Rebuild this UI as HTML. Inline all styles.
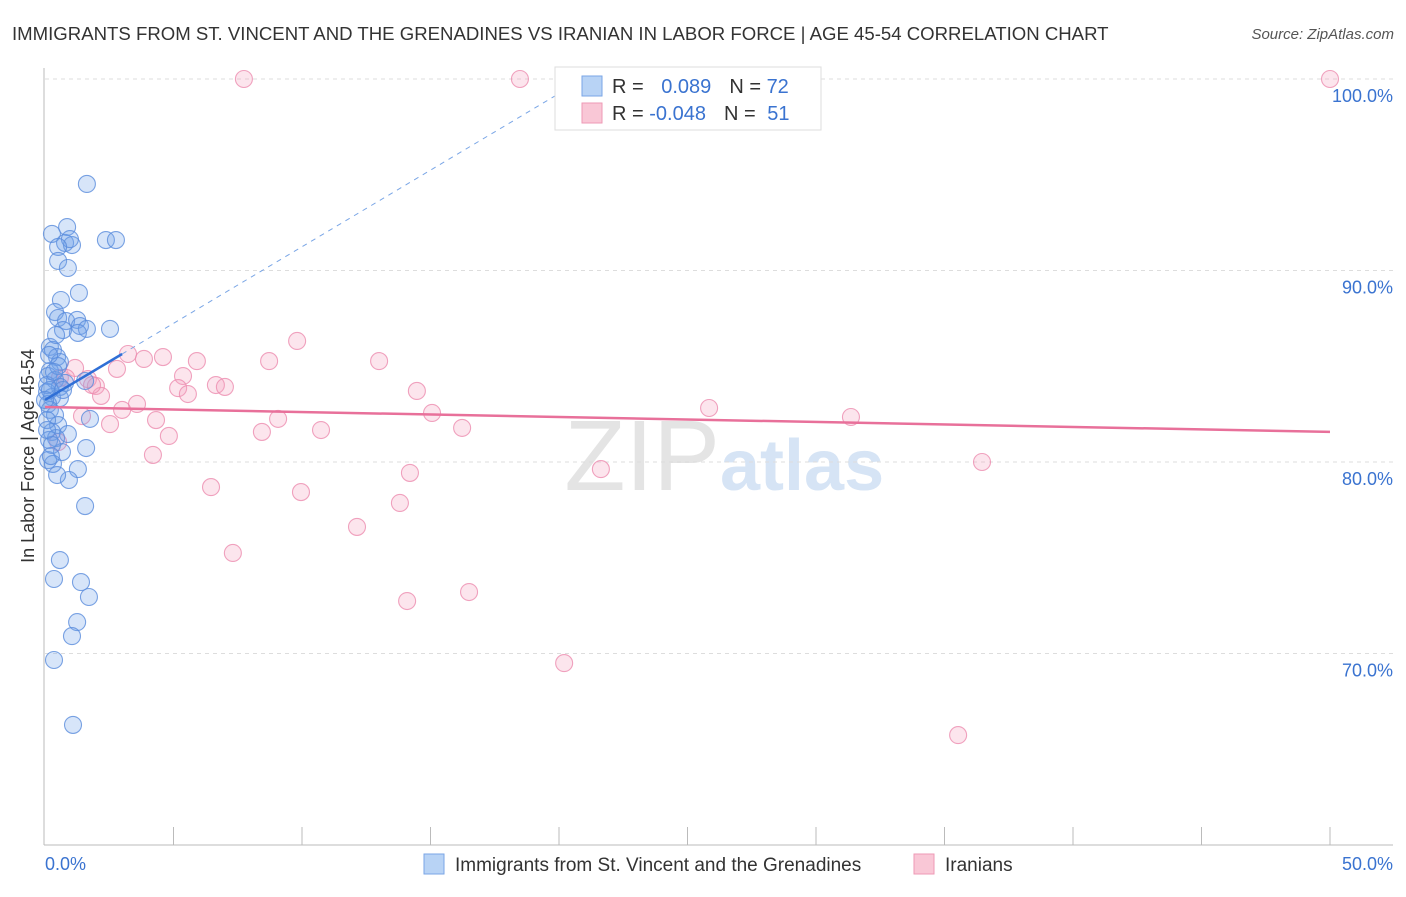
<!DOCTYPE html>
<html><head><meta charset="utf-8"><style>
body{margin:0;background:#fff;font-family:"Liberation Sans",sans-serif}
svg text{font-family:"Liberation Sans",sans-serif}
</style></head><body>
<svg id="c" width="1406" height="892">
<text x="12" y="40" font-size="18.6" fill="#333">IMMIGRANTS FROM ST. VINCENT AND THE GRENADINES VS IRANIAN IN LABOR FORCE | AGE 45-54 CORRELATION CHART</text>
<text x="1394" y="39" font-size="15" fill="#555" font-style="italic" text-anchor="end">Source: ZipAtlas.com</text>
<text x="720" y="490" font-size="100" fill="#e4e4e4" text-anchor="end" font-family="Liberation Serif">ZIP</text>
<text x="720" y="490" font-size="72" fill="#d6e4f5" font-weight="bold">atlas</text>
<g id="grid"></g><g id="axes"></g><g id="pts"></g><g id="lines"></g>
<text transform="translate(34,456) rotate(-90)" font-size="18" fill="#333" text-anchor="middle">In Labor Force | Age 45-54</text>
<g>
<rect x="555" y="67" width="266" height="63" fill="#fff" stroke="#ddd"/>
<rect x="582" y="76" width="20" height="20" fill="#b8d3f5" stroke="#7aa6e6"/>
<rect x="582" y="103" width="20" height="20" fill="#f9c7d6" stroke="#ee9ab5"/>
<text x="612" y="93" font-size="20" fill="#333">R = <tspan fill="#3a73d0" dx="12">0.089</tspan><tspan dx="18" fill="#333">N = </tspan><tspan fill="#3a73d0">72</tspan></text>
<text x="612" y="120" font-size="20" fill="#333">R = <tspan fill="#3a73d0">-0.048</tspan><tspan dx="18" fill="#333">N = </tspan><tspan fill="#3a73d0" dx="6">51</tspan></text>
</g>
<g>
<rect x="424" y="854" width="20" height="20" fill="#b8d3f5" stroke="#7aa6e6"/>
<text x="455" y="871" font-size="19" fill="#333">Immigrants from St. Vincent and the Grenadines</text>
<rect x="914" y="854" width="20" height="20" fill="#f9c7d6" stroke="#ee9ab5"/>
<text x="945" y="871" font-size="19" fill="#333">Iranians</text>
</g>
</svg>
<script>
const blueX=[1.63,0.27,0.86,0.78,1.05,0.97,0.51,2.37,2.76,0.51,0.89,1.32,0.62,0.39,0.51,0.82,1.25,1.36,1.63,1.28,2.53,0.19,0.31,0.47,0.58,0.19,0.12,0.39,0.78,1.56,0.58,0.08,0.27,0.58,0.12,0.19,0.39,1.75,0.51,0.27,0.89,0.43,1.60,0.66,0.12,0.31,1.28,0.93,1.56,0.58,0.35,1.40,1.71,1.25,1.05,0.35,1.09,0.08,0.16,0.27,0.08,0.19,0.51,0.0,0.70,0.43,0.16,0.35,0.08,0.23,0.47,0.70];
const blueY=[94.52,91.91,92.27,91.44,91.33,91.64,91.23,91.59,91.59,90.50,90.13,88.83,88.46,87.83,87.52,87.36,87.42,87.10,86.95,86.74,86.95,86.01,85.85,85.48,85.22,84.75,84.49,84.28,84.13,84.23,83.92,83.66,83.39,83.34,83.03,82.72,82.45,82.25,81.93,81.57,81.46,81.25,80.73,80.52,80.10,79.90,79.63,79.06,77.70,74.88,73.89,73.73,72.95,71.64,70.91,69.66,66.27,82.19,81.15,80.89,84.02,83.76,85.01,83.24,86.89,86.63,85.59,84.70,81.67,80.31,79.32,83.76];
const pinkX=[7.74,18.48,50,9.81,3.23,3.85,4.59,5.91,8.72,13.0,1.17,2.80,5.37,1.67,0.58,1.98,5.18,6.65,7.0,5.56,2.18,14.47,3.58,3.0,4.32,1.44,2.53,9.07,15.06,25.84,31.36,8.44,10.74,16.23,4.82,4.20,0.51,14.2,21.63,36.46,6.46,9.96,13.81,12.14,7.31,16.5,14.09,20.2,35.53,0.82,1.83];
const pinkY=[100,100,100,86.32,85.64,85.38,85.48,85.27,85.27,85.27,84.91,84.86,84.49,84.33,84.39,83.97,83.86,84.02,83.92,83.55,83.45,83.71,83.03,82.72,82.19,82.40,81.98,82.25,82.56,82.82,82.35,81.57,81.67,81.78,81.36,80.37,81.04,79.43,79.63,80.0,78.69,78.43,77.86,76.61,75.25,73.21,72.74,69.50,65.74,84.39,84.02];
const yTicks=[100,90,80,70];
const yTickLabels=["100.0%","90.0%","80.0%","70.0%"];
const blueLine=[83.24,0.8];
const pinkLine=[82.87,-0.026];
const sx=v=>45+v*1285/50, sy=v=>79+(100-v)*19.15;
const NS="http://www.w3.org/2000/svg";
function mk(p,t,a){const e=document.createElementNS(NS,t);for(const k in a)e.setAttribute(k,a[k]);p.appendChild(e);return e;}
const grid=document.getElementById('grid'),axes=document.getElementById('axes'),pts=document.getElementById('pts'),lines=document.getElementById('lines');
yTicks.forEach((t,i)=>{
 const g=mk(grid,'line',{x1:45,x2:1393,y1:sy(t),y2:sy(t),stroke:'#ddd','stroke-dasharray':'4 4'});
 
 
 const l=mk(grid,'text',{x:1393,y:sy(t)+23,'font-size':18,fill:'#3a73d0','text-anchor':'end'});
 l.textContent=yTickLabels[i];
 
 
});
const ya=mk(axes,'line',{x1:44,x2:44,y1:68,y2:845,stroke:'#bbb'});


const xa=mk(axes,'line',{x1:44,x2:1393,y1:845,y2:845,stroke:'#bbb'});


for(let v=5;v<=50;v+=5){const t=mk(axes,'line',{x1:sx(v),x2:sx(v),y1:827,y2:845,stroke:'#bbb'});
 
 }
[[0,"0.0%","start",45],[50,"50.0%","end",1393]].forEach(d=>{const t=mk(axes,'text',{x:d[3],y:870,'font-size':18,fill:'#3a73d0','text-anchor':d[2]});t.textContent=d[1];
 
 });
pinkX.forEach((x,i)=>{const c=mk(pts,'circle',{cx:sx(x),cy:sy(pinkY[i]),r:8.5,fill:'rgba(244,160,190,0.28)',stroke:'rgba(236,140,175,0.8)','stroke-width':1.1});
 
 });
blueX.forEach((x,i)=>{const c=mk(pts,'circle',{cx:sx(x),cy:sy(blueY[i]),r:8.5,fill:'rgba(110,160,235,0.28)',stroke:'rgba(90,140,220,0.8)','stroke-width':1.1});
 
 });
const bx100=(100-blueLine[0])/blueLine[1];
const bd=mk(lines,'line',{x1:sx(3),y1:sy(blueLine[0]+3*blueLine[1]),x2:sx(bx100),y2:sy(100),stroke:'#7aa6e6','stroke-dasharray':'5 5'});


const bl=mk(lines,'line',{x1:sx(0),y1:sy(blueLine[0]),x2:sx(3),y2:sy(blueLine[0]+3*blueLine[1]),stroke:'#2f6fd6','stroke-width':2.5});


const pl=mk(lines,'line',{x1:sx(0),y1:sy(pinkLine[0]),x2:sx(50),y2:sy(pinkLine[0]+50*pinkLine[1]),stroke:'#e8709a','stroke-width':2.5});


</script>
</body></html>
